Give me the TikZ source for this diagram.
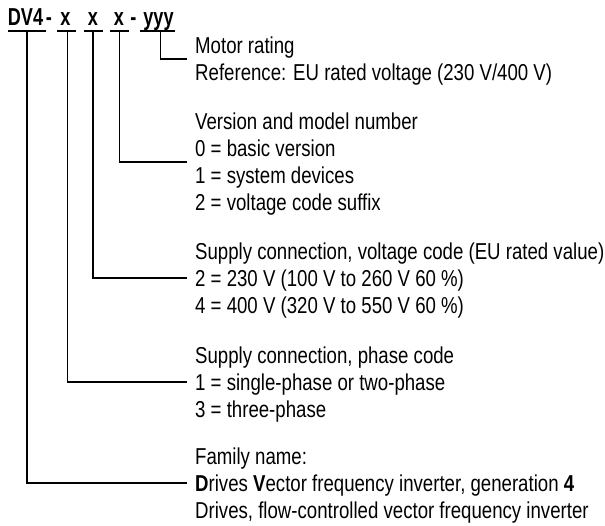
\documentclass[tikz,border=0pt]{standalone}
\usepackage{fontspec}
\setmainfont{Liberation Sans}[FakeStretch=0.81]
\newfontfamily\titlefont{Liberation Sans}[FakeStretch=0.74]
\begin{document}
\begin{tikzpicture}[x=1pt,y=-1pt,
  txt/.style={anchor=west,inner sep=0pt,font=\fontsize{23}{23}\selectfont,text height=16.5pt,text depth=0pt},
  ttl/.style={anchor=base,inner sep=0pt,font=\fontsize{24.5}{24.5}\selectfont\titlefont\bfseries},
  lead/.style={line width=1.8pt,shorten >=8pt},
  uline/.style={line width=1.8pt}]
\useasboundingbox (0,0) rectangle (605,526);
% title
\node[ttl] (tD) at (25.5,25.5) {DV4};
\node[ttl] (th1) at (49,25.5) {-};
\node[ttl] (tx1) at (65.5,25.5) {x};
\node[ttl] (tx2) at (93,25.5) {x};
\node[ttl] (tx3) at (119,25.5) {x};
\node[ttl] (th2) at (133.5,25.5) {-};
\node[ttl] (tY) at (158.5,25.5) {yyy};
% underlines
\coordinate (uDa) at (8,31); \coordinate (uDb) at (46,31);
\coordinate (u1a) at (57,31); \coordinate (u1b) at (76,31);
\coordinate (u2a) at (84,31); \coordinate (u2b) at (103,31);
\coordinate (u3a) at (110,31); \coordinate (u3b) at (129,31);
\coordinate (uYa) at (140,31); \coordinate (uYb) at (175,31);
\draw[uline] (uDa) -- (uDb);
\draw[uline] (u1a) -- (u1b);
\draw[uline] (u2a) -- (u2b);
\draw[uline] (u3a) -- (u3b);
\draw[uline] (uYa) -- (uYb);
\coordinate (uD) at (27,31);
\coordinate (u1) at (67.5,31);
\coordinate (u2) at (93,31);
\coordinate (u3) at (119.5,31);
\coordinate (uY) at (160.5,31);
% texts
\node[txt] (m1) at (195,45) {Motor rating};
\node[txt] (m2) at (195,72) {Reference: EU rated voltage (230 V/400 V)};
\node[txt] (v0) at (195,121) {Version and model number};
\node[txt] (v1) at (195,148) {0 = basic version};
\node[txt] (v2) at (195,175) {1 = system devices};
\node[txt] (v3) at (195,202) {2 = voltage code suffix};
\node[txt] (s0) at (195,251) {Supply connection, voltage code (EU rated value)};
\node[txt] (s1) at (195,278) {2 = 230 V (100 V to 260 V 60 \%)};
\node[txt] (s2) at (195,305) {4 = 400 V (320 V to 550 V 60 \%)};
\node[txt] (p0) at (195,355) {Supply connection, phase code};
\node[txt] (p1) at (195,382) {1 = single-phase or two-phase};
\node[txt] (p2) at (195,409) {3 = three-phase};
\node[txt] (f0) at (195,456) {Family name:};
\node[txt] (f1) at (195,483) {\textbf{D}rives \textbf{V}ector frequency inverter, generation \textbf{4}};
\node[txt] (f2) at (195,510) {Drives, flow-controlled vector frequency inverter};
% leaders
\coordinate (eY) at (195,59);
\coordinate (e3) at (195,162);
\draw[lead] (uY) |- (eY);
\draw[lead] (u3) |- (e3);
\draw[lead] (u2) |- (s1.west);
\draw[lead] (u1) |- (p1.west);
\draw[lead] (uD) |- (f1.west);
\end{tikzpicture}
\end{document}
